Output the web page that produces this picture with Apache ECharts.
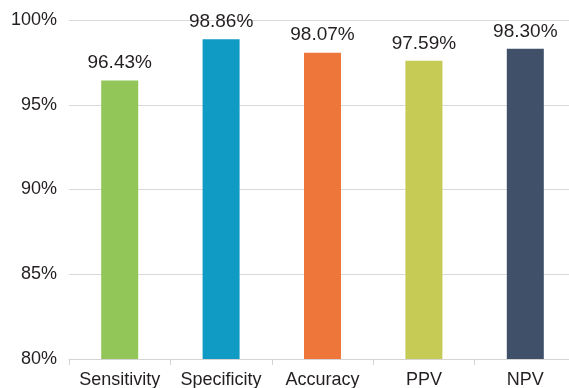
<!DOCTYPE html>
<html>
<head>
<meta charset="utf-8">
<script src="https://cdn.jsdelivr.net/npm/echarts@6/dist/echarts.min.js"></script>
<style>
  html, body { margin: 0; padding: 0; background: #fff; }
  #chart { width: 569px; height: 388px; }
</style>
</head>
<body>
<div id="chart"></div>
<script>
// Diagnostic performance metrics (percent)
const categories = ['Sensitivity', 'Specificity', 'Accuracy', 'PPV', 'NPV'];
const values = [96.43, 98.86, 98.07, 97.59, 98.30];
const barColors = ['#92c658', '#0f9bc4', '#ee763a', '#c5cb55', '#3f5068'];
const yTicks = [80, 85, 90, 95, 100];

const chart = echarts.init(document.getElementById('chart'), null, { renderer: 'canvas' });

chart.setOption({
  animation: false,
  // plot area runs slightly past the right edge of the canvas
  grid: { left: 69, width: 507, top: 20, bottom: 29, containLabel: false, outerBoundsMode: 'none' },
  xAxis: {
    type: 'category',
    data: categories,
    axisLine: { show: true, lineStyle: { color: '#d4d4d4', width: 1 } },
    axisTick: { show: true, interval: 0, length: 6, lineStyle: { color: '#d4d4d4' } },
    axisLabel: {
      interval: 0,
      hideOverlap: false,
      color: '#231f20', fontSize: 18, margin: 12,
      fontFamily: 'Liberation Sans, Arial, sans-serif'
    }
  },
  yAxis: {
    type: 'value',
    min: yTicks[0],
    max: yTicks[yTicks.length - 1],
    interval: yTicks[1] - yTicks[0],
    axisLine: { show: false },
    axisTick: { show: false },
    splitLine: { show: true, lineStyle: { color: '#d9d9d9', width: 1 } },
    axisLabel: {
      color: '#231f20', fontSize: 18, margin: 12,
      fontFamily: 'Liberation Sans, Arial, sans-serif',
      formatter: v => v + '%'
    }
  },
  series: [{
    type: 'bar',
    barWidth: 37,
    data: values.map((v, i) => ({ value: v, itemStyle: { color: barColors[i] } })),
    label: {
      show: true,
      position: 'top',
      distance: 8,
      color: '#231f20',
      fontSize: 19,
      fontFamily: 'Liberation Sans, Arial, sans-serif',
      formatter: p => p.value.toFixed(2) + '%'
    }
  }]
});
</script>
</body>
</html>
